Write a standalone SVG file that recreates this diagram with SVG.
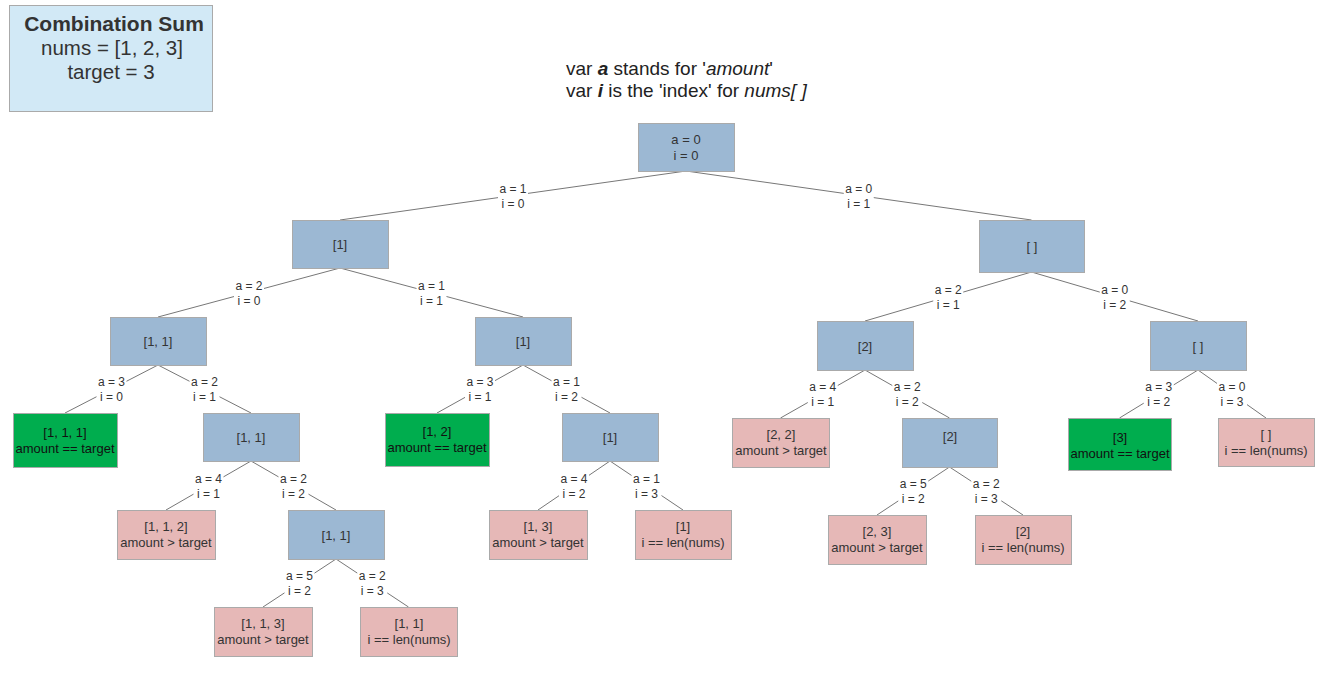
<svg xmlns="http://www.w3.org/2000/svg" width="1344" height="674" viewBox="0 0 1344 674">
<style>
text{font-family:"Liberation Sans",Arial,sans-serif;text-anchor:middle}
.n rect{stroke:#aaaaaa;stroke-width:1}
.b rect{fill:#9cb8d3}
.p rect{fill:#e6b8b7}
.g rect{fill:#00ad4e}
.n text{font-size:13px;fill:#333}
.g text{fill:#111}
.e line{stroke:#777;stroke-width:1}
.l rect{fill:#fff}
.l text{font-size:12px;fill:#333}
</style>
<rect width="1344" height="674" fill="#fff"/>
<g id="title">
<rect x="9.5" y="5.5" width="203" height="106" fill="#d2e9f6" stroke="#aaa"/>
<text x="114" y="31" font-size="21" font-weight="bold" fill="#333">Combination Sum</text>
<text x="112" y="55" font-size="20.5" fill="#333">nums = [1, 2, 3]</text>
<text x="111" y="79" font-size="20.5" fill="#333">target = 3</text>
</g>
<g id="note" style="font-size:19px;fill:#222">
<text x="566" y="75" style="text-anchor:start">var <tspan font-weight="bold" font-style="italic">a</tspan> stands for '<tspan font-style="italic">amount</tspan>'</text>
<text x="566" y="97" style="text-anchor:start">var <tspan font-weight="bold" font-style="italic">i</tspan> is the 'index' for <tspan font-style="italic">nums[ ]</tspan></text>
</g>
<g id="connectors" class="e">
<line x1="686" y1="171" x2="340" y2="220"/>
<line x1="686" y1="171" x2="1031.5" y2="220"/>
<line x1="340" y1="268" x2="158" y2="317"/>
<line x1="340" y1="268" x2="523" y2="317"/>
<line x1="1031.5" y1="272" x2="865" y2="321"/>
<line x1="1031.5" y1="272" x2="1198" y2="321"/>
<line x1="158" y1="365" x2="65" y2="413"/>
<line x1="158" y1="365" x2="251" y2="413"/>
<line x1="523" y1="365" x2="437" y2="413"/>
<line x1="523" y1="365" x2="610" y2="413"/>
<line x1="865" y1="370" x2="780.5" y2="418"/>
<line x1="865" y1="370" x2="949.5" y2="418"/>
<line x1="1198" y1="370" x2="1119.5" y2="418"/>
<line x1="1198" y1="370" x2="1266" y2="418"/>
<line x1="251" y1="461" x2="166" y2="510"/>
<line x1="251" y1="461" x2="336" y2="510"/>
<line x1="610" y1="461" x2="538" y2="510"/>
<line x1="610" y1="461" x2="683" y2="510"/>
<line x1="949.5" y1="467" x2="877" y2="515"/>
<line x1="949.5" y1="467" x2="1023" y2="515"/>
<line x1="336" y1="559" x2="263" y2="607"/>
<line x1="336" y1="559" x2="408.5" y2="607"/>
<g class="l">
<g transform="translate(513,195.5)"><rect x="-15" y="-14" width="30" height="28"/><text y="-3">a = 1</text><text y="12">i = 0</text></g>
<g transform="translate(858.75,195.5)"><rect x="-15" y="-14" width="30" height="28"/><text y="-3">a = 0</text><text y="12">i = 1</text></g>
<g transform="translate(249,292.5)"><rect x="-15" y="-14" width="30" height="28"/><text y="-3">a = 2</text><text y="12">i = 0</text></g>
<g transform="translate(431.5,292.5)"><rect x="-15" y="-14" width="30" height="28"/><text y="-3">a = 1</text><text y="12">i = 1</text></g>
<g transform="translate(948.25,296.5)"><rect x="-15" y="-14" width="30" height="28"/><text y="-3">a = 2</text><text y="12">i = 1</text></g>
<g transform="translate(1114.75,296.5)"><rect x="-15" y="-14" width="30" height="28"/><text y="-3">a = 0</text><text y="12">i = 2</text></g>
<g transform="translate(111.5,389)"><rect x="-15" y="-14" width="30" height="28"/><text y="-3">a = 3</text><text y="12">i = 0</text></g>
<g transform="translate(204.5,389)"><rect x="-15" y="-14" width="30" height="28"/><text y="-3">a = 2</text><text y="12">i = 1</text></g>
<g transform="translate(480,389)"><rect x="-15" y="-14" width="30" height="28"/><text y="-3">a = 3</text><text y="12">i = 1</text></g>
<g transform="translate(566.5,389)"><rect x="-15" y="-14" width="30" height="28"/><text y="-3">a = 1</text><text y="12">i = 2</text></g>
<g transform="translate(822.75,394)"><rect x="-15" y="-14" width="30" height="28"/><text y="-3">a = 4</text><text y="12">i = 1</text></g>
<g transform="translate(907.25,394)"><rect x="-15" y="-14" width="30" height="28"/><text y="-3">a = 2</text><text y="12">i = 2</text></g>
<g transform="translate(1158.75,394)"><rect x="-15" y="-14" width="30" height="28"/><text y="-3">a = 3</text><text y="12">i = 2</text></g>
<g transform="translate(1232,394)"><rect x="-15" y="-14" width="30" height="28"/><text y="-3">a = 0</text><text y="12">i = 3</text></g>
<g transform="translate(208.5,485.5)"><rect x="-15" y="-14" width="30" height="28"/><text y="-3">a = 4</text><text y="12">i = 1</text></g>
<g transform="translate(293.5,485.5)"><rect x="-15" y="-14" width="30" height="28"/><text y="-3">a = 2</text><text y="12">i = 2</text></g>
<g transform="translate(574,485.5)"><rect x="-15" y="-14" width="30" height="28"/><text y="-3">a = 4</text><text y="12">i = 2</text></g>
<g transform="translate(646.5,485.5)"><rect x="-15" y="-14" width="30" height="28"/><text y="-3">a = 1</text><text y="12">i = 3</text></g>
<g transform="translate(913.25,491)"><rect x="-15" y="-14" width="30" height="28"/><text y="-3">a = 5</text><text y="12">i = 2</text></g>
<g transform="translate(986.25,491)"><rect x="-15" y="-14" width="30" height="28"/><text y="-3">a = 2</text><text y="12">i = 3</text></g>
<g transform="translate(299.5,583)"><rect x="-15" y="-14" width="30" height="28"/><text y="-3">a = 5</text><text y="12">i = 2</text></g>
<g transform="translate(372.25,583)"><rect x="-15" y="-14" width="30" height="28"/><text y="-3">a = 2</text><text y="12">i = 3</text></g>
</g>
</g>
<g id="root" class="n b"><rect x="638.5" y="123.5" width="96" height="48"/><text x="686" y="144">a = 0</text><text x="686" y="160">i = 0</text></g>
<g id="n1" class="n b"><rect x="292.5" y="220.5" width="96" height="48"/><text x="340" y="249">[1]</text></g>
<g id="n2" class="n b"><rect x="979.5" y="220.5" width="105" height="52"/><text x="1032" y="251">[ ]</text></g>
<g id="n11" class="n b"><rect x="110.5" y="317.5" width="96" height="48"/><text x="158" y="346">[1, 1]</text></g>
<g id="n12" class="n b"><rect x="475.5" y="317.5" width="96" height="48"/><text x="523" y="346">[1]</text></g>
<g id="n21" class="n b"><rect x="817.5" y="321.5" width="96" height="49"/><text x="865" y="351">[2]</text></g>
<g id="n22" class="n b"><rect x="1150.5" y="321.5" width="96" height="49"/><text x="1198" y="351">[ ]</text></g>
<g id="n111" class="n g"><rect x="13.5" y="413.5" width="104" height="54"/><text x="65" y="437">[1, 1, 1]</text><text x="65" y="453">amount == target</text></g>
<g id="n112" class="n b"><rect x="203.5" y="413.5" width="96" height="48"/><text x="251" y="442">[1, 1]</text></g>
<g id="n121" class="n g"><rect x="385.5" y="413.5" width="104" height="53"/><text x="437" y="436">[1, 2]</text><text x="437" y="452">amount == target</text></g>
<g id="n122" class="n b"><rect x="562.5" y="413.5" width="96" height="48"/><text x="610" y="442">[1]</text></g>
<g id="n211" class="n p"><rect x="732.5" y="418.5" width="97" height="49"/><text x="781" y="439">[2, 2]</text><text x="781" y="455">amount &gt; target</text></g>
<g id="n212" class="n b"><rect x="902.5" y="418.5" width="95" height="49"/><text x="950" y="441">[2]</text></g>
<g id="n221" class="n g"><rect x="1068.5" y="418.5" width="103" height="52"/><text x="1120" y="442">[3]</text><text x="1120" y="458">amount == target</text></g>
<g id="n222" class="n p"><rect x="1218.5" y="418.5" width="96" height="48"/><text x="1266" y="439">[ ]</text><text x="1266" y="455">i == len(nums)</text></g>
<g id="n1121" class="n p"><rect x="117.5" y="510.5" width="98" height="49"/><text x="166" y="531">[1, 1, 2]</text><text x="166" y="547">amount &gt; target</text></g>
<g id="n1122" class="n b"><rect x="288.5" y="510.5" width="96" height="49"/><text x="336" y="540">[1, 1]</text></g>
<g id="n1221" class="n p"><rect x="489.5" y="510.5" width="98" height="49"/><text x="538" y="531">[1, 3]</text><text x="538" y="547">amount &gt; target</text></g>
<g id="n1222" class="n p"><rect x="635.5" y="510.5" width="96" height="49"/><text x="683" y="531">[1]</text><text x="683" y="547">i == len(nums)</text></g>
<g id="n2121" class="n p"><rect x="828.5" y="515.5" width="98" height="49"/><text x="877" y="536">[2, 3]</text><text x="877" y="552">amount &gt; target</text></g>
<g id="n2122" class="n p"><rect x="975.5" y="515.5" width="96" height="49"/><text x="1023" y="536">[2]</text><text x="1023" y="552">i == len(nums)</text></g>
<g id="n11221" class="n p"><rect x="214.5" y="607.5" width="98" height="49"/><text x="263" y="628">[1, 1, 3]</text><text x="263" y="644">amount &gt; target</text></g>
<g id="n11222" class="n p"><rect x="360.5" y="607.5" width="97" height="49"/><text x="409" y="628">[1, 1]</text><text x="409" y="644">i == len(nums)</text></g>
</svg>
